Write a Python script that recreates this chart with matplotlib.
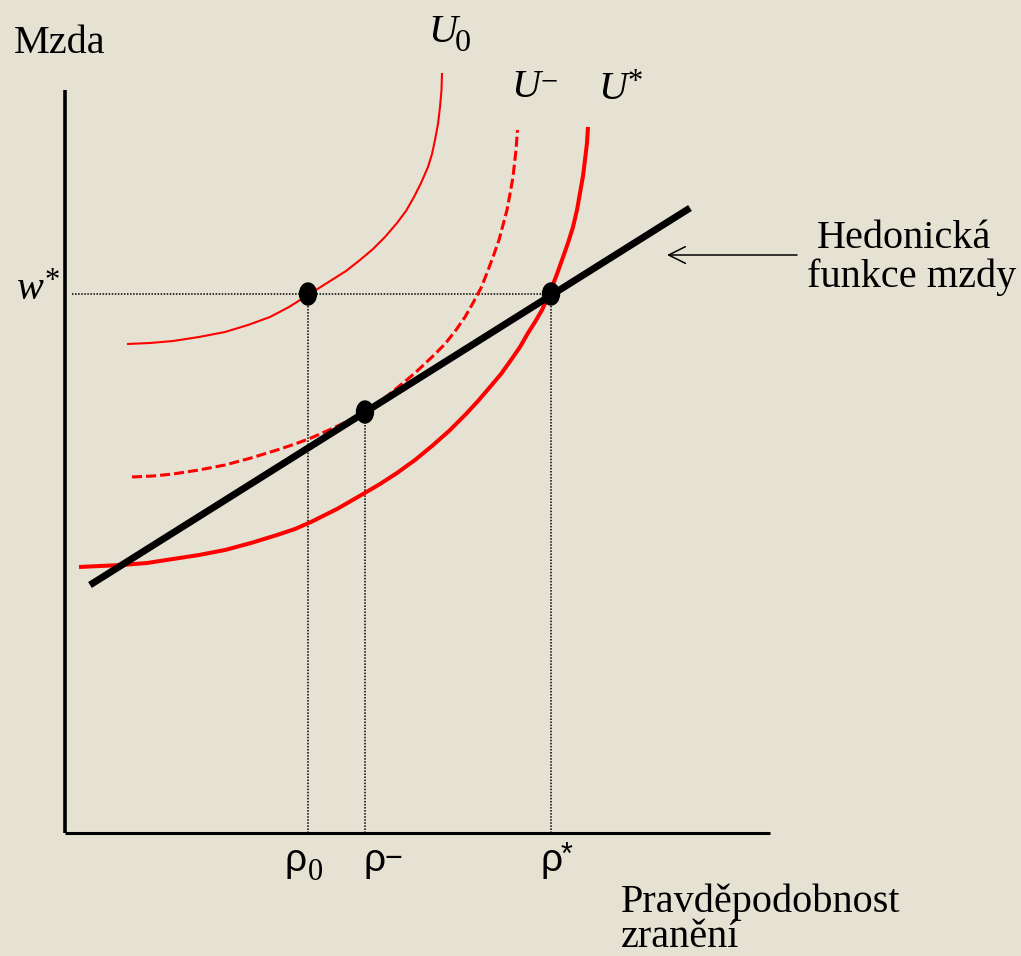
import matplotlib
matplotlib.use("Agg")
import matplotlib.pyplot as plt
from matplotlib.patches import Ellipse

# Indifference curves: probability of injury (x) vs. wage (y)
u0_risk = [0.62, 0.85, 1.08, 1.34, 1.60, 1.83, 2.05, 2.24, 2.43, 2.62, 2.81,
           2.95, 3.08, 3.20, 3.32, 3.41, 3.49, 3.56, 3.63, 3.67, 3.70, 3.73,
           3.75, 3.765, 3.77]
u0_wage = [4.89, 4.90, 4.92, 4.96, 5.01, 5.08, 5.16, 5.26, 5.38, 5.50, 5.62,
           5.73, 5.84, 5.96, 6.10, 6.22, 6.36, 6.50, 6.66, 6.79, 6.93, 7.09,
           7.26, 7.43, 7.60]

um_risk = [0.67, 0.88, 1.08, 1.34, 1.60, 1.86, 2.12, 2.30, 2.46, 2.64, 2.81,
           3.00, 3.16, 3.32, 3.50, 3.67, 3.80, 3.91, 4.00, 4.08, 4.16, 4.22,
           4.28, 4.34, 4.38, 4.42, 4.45, 4.48, 4.51, 4.525]
um_wage = [3.56, 3.57, 3.59, 3.63, 3.68, 3.75, 3.83, 3.89, 3.95, 4.03, 4.11,
           4.21, 4.32, 4.45, 4.60, 4.76, 4.89, 5.03, 5.16, 5.30, 5.45, 5.60,
           5.76, 5.93, 6.08, 6.23, 6.39, 6.56, 6.83, 7.03]

us_risk = [0.14, 0.35, 0.57, 0.82, 1.08, 1.34, 1.60, 1.86, 2.12, 2.30, 2.46,
           2.72, 2.98, 3.15, 3.32, 3.50, 3.67, 3.84, 4.01, 4.13, 4.25, 4.36,
           4.46, 4.55, 4.63, 4.70, 4.77, 4.82, 4.87, 4.92, 4.97, 5.03, 5.08,
           5.12, 5.15, 5.18, 5.20, 5.22, 5.23]
us_wage = [2.66, 2.67, 2.68, 2.70, 2.74, 2.78, 2.83, 2.90, 2.98, 3.04, 3.11,
           3.24, 3.39, 3.49, 3.60, 3.73, 3.87, 4.02, 4.19, 4.32, 4.46, 4.59,
           4.73, 4.86, 5.00, 5.11, 5.23, 5.34, 5.46, 5.59, 5.73, 5.90, 6.06,
           6.23, 6.40, 6.57, 6.73, 6.90, 7.06]

# Hedonic wage function
hedonic_risk = [0.25, 6.25]
hedonic_wage = [2.48, 6.25]

# Marked points
rho_0, rho_minus, rho_star = 2.43, 3.00, 4.86
w_star = 5.39
w_minus = 4.21

axis_x_max = 7.05
axis_y_max = 7.43

BG = "#E5E2D3"
RED = "#FF0000"
W, H = 1021, 956
SERIF = "Liberation Serif"
SANS = "Liberation Sans"

fig = plt.figure(figsize=(W / 100, H / 100), dpi=100, facecolor=BG)
ax = fig.add_axes([0, 0, 1, 1])
ax.set_facecolor(BG)
ax.set_xlim(-0.65, 9.56)
ax.set_ylim(-1.23, 8.33)
ax.axis("off")

# Axes
ax.plot([0, 0], [0, axis_y_max], color="black", lw=2.6, solid_capstyle="butt")
ax.plot([0, axis_x_max], [0, 0], color="black", lw=2.2, solid_capstyle="butt")

# Dotted guides
dot = dict(color="black", lw=1.1, linestyle=(0, (1, 1)))
ax.plot([0.07, rho_star], [w_star, w_star], **dot)
for r, w in [(rho_0, w_star), (rho_minus, w_minus), (rho_star, w_star)]:
    ax.plot([r, r], [0, w], **dot)

# Indifference curves
ax.plot(u0_risk, u0_wage, color=RED, lw=1.5, solid_capstyle="butt",
        solid_joinstyle="round")
ax.plot(um_risk, um_wage, color=RED, lw=2.2, dashes=(3.3, 1.3),
        dash_capstyle="butt", dash_joinstyle="round")
ax.plot(us_risk, us_wage, color=RED, lw=2.9, solid_capstyle="butt",
        solid_joinstyle="round")

# Hedonic wage line
ax.plot(hedonic_risk, hedonic_wage, color="black", lw=5.0,
        solid_capstyle="butt")

# Points
for r, w in [(rho_0, w_star), (rho_minus, w_minus), (rho_star, w_star)]:
    ax.add_patch(Ellipse((r, w), 0.17, 0.22, color="black", zorder=5))


def at(x, y):
    return (x, H - y)


def label(s, x, y, size, family=SERIF, style="normal", ha="left"):
    ax.annotate(s, xy=at(x, y), xycoords="figure pixels", fontsize=size,
                family=family, style=style, ha=ha, va="baseline",
                color="black")


def tick_label(s, r, dx, dy, size, family):
    ax.annotate(s, xy=(r, 0), xytext=(dx, dy), textcoords="offset pixels",
                fontsize=size, family=family, ha="left", va="baseline",
                color="black")


label("Mzda", 14, 53, 29)
label("Hedonická", 904, 248, 29, ha="center")
label("funkce mzdy", 912, 287, 29, ha="center")
label("Pravděpodobnost", 621, 912, 29)
label("zranění", 621, 947, 29)

# Curve labels
label("U", 428, 42, 29, style="italic")
label("0", 455, 51, 23)
label("U", 511, 97, 29, style="italic")
label("\u2212", 540, 90, 22)
label("U", 598, 99, 29, style="italic")
label("*", 628, 90, 22)
label("w", 16, 299, 29, style="italic")
label("*", 45, 289, 22)

# Axis tick labels
tick_label("\u03c1", rho_0, -24, -38, 28, SANS)
tick_label("0", rho_0, 0, -47, 22, SERIF)
tick_label("\u03c1", rho_minus, -2, -38, 28, SANS)
tick_label("\u2212", rho_minus, 19, -34, 22, SANS)
tick_label("\u03c1", rho_star, -11, -38, 28, SANS)
tick_label("*", rho_star, 10, -31, 22, SANS)

# Arrow pointing at the hedonic line
ax.annotate("", xy=(6.02, 5.78), xytext=(7.32, 5.78),
            arrowprops=dict(arrowstyle="->,head_length=0.6,head_width=0.3",
                            lw=1.1, color="black", shrinkA=0, shrinkB=0,
                            mutation_scale=20))

fig.savefig("out.png", dpi=100, facecolor=BG)
